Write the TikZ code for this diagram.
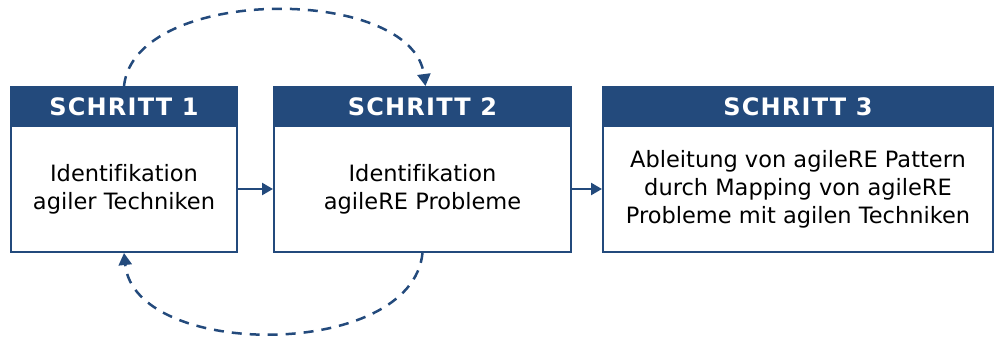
\documentclass[tikz,border=0pt]{standalone}
\usepackage{fontspec}
\setmainfont{DejaVu Sans}[Ligatures=NoCommon]
\newfontfamily\headfont[LetterSpace=5]{DejaVu Sans}
\usetikzlibrary{arrows.meta}
\definecolor{stepblue}{RGB}{35,74,124}
\tikzset{
  stephead/.style={draw=stepblue, fill=stepblue, line width=2pt, anchor=north west,
    minimum height=39pt, inner sep=0pt, text=white, font=\headfont\bfseries\fontsize{24}{28}\selectfont},
  stepbody/.style={draw=stepblue, fill=white, line width=2pt, anchor=north west,
    minimum height=126pt, inner sep=0pt, align=center, font=\fontsize{22.5}{28}\selectfont},
  flow/.style={draw=stepblue, line width=2.5pt, -{Triangle[length=11pt,width=12pt]}},
  loop/.style={draw=stepblue, line width=2.5pt, dash pattern=on 10pt off 8pt, -{Triangle[length=12pt,width=13pt]}}
}
\begin{document}
\begin{tikzpicture}[x=1pt,y=-1pt]
\useasboundingbox (0,0) rectangle (994,338);
% step 1
\node[stepbody, minimum width=226pt] (b1) at (10,125) {Identifikation\\agiler Techniken};
\node[stephead, minimum width=226pt] (h1) at (10,86) {SCHRITT 1};
% step 2
\node[stepbody, minimum width=297pt] (b2) at (273,125) {Identifikation\\agileRE Probleme};
\node[stephead, minimum width=297pt] (h2) at (273,86) {SCHRITT 2};
% step 3
\node[stepbody, minimum width=390pt] (b3) at (602,125) {Ableitung von agileRE Pattern\\durch Mapping von agileRE\\Probleme mit agilen Techniken};
\node[stephead, minimum width=390pt] (h3) at (602,86) {SCHRITT 3};
% forward flow
\draw[flow] (b1.east) -- (b2.west);
\draw[flow] (b2.east) -- (b3.west);
% feedback loops
\draw[loop] (h1.north) .. controls (135,-15) and (412,-15) .. ([xshift=3pt]h2.north);
\draw[loop] (b2.south) .. controls (412,360) and (135,360) .. (b1.south);
\end{tikzpicture}
\end{document}
